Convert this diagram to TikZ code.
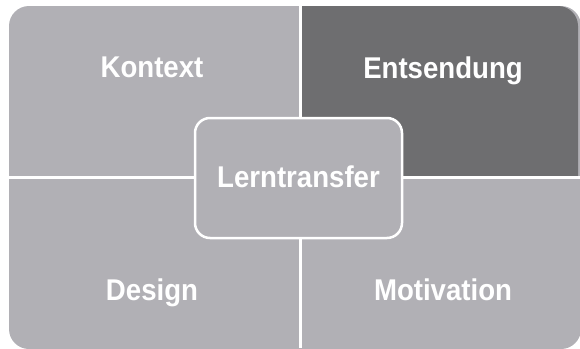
\documentclass[tikz,border=0pt]{standalone}
\usepackage{fontspec}
\setmainfont[FakeStretch=0.92]{Liberation Sans}
\usepackage{tikz}
\usepackage{xcolor}
\usetikzlibrary{positioning}
\definecolor{lightcol}{RGB}{177, 176, 181}
\definecolor{darkcol}{RGB}{110, 110, 112}

\begin{document}
\begin{tikzpicture}[
    x=1pt, y=-1pt,
    label/.style={text=white, font=\fontsize{30}{30}\selectfont\bfseries,
                  inner sep=0pt, anchor=base},
    divider/.style={draw=white, line width=3pt},
    hub/.style={rectangle, rounded corners=15pt, fill=lightcol, draw=white,
                line width=2.5pt, minimum width=207pt, minimum height=120pt}
  ]
  \useasboundingbox (0,0) rectangle (580,348);
  \clip (0,0) rectangle (580,348);

  % Quadrant backgrounds
  \fill[lightcol, rounded corners=20pt] (9,6) rectangle (581,349);
  \fill[darkcol] (300,177) -- (300,6) [rounded corners=20pt] -- (578,6)
        [sharp corners] -- (578,177) -- cycle;

  % Dividers
  \draw[divider] (300,0) -- (300,348);
  \draw[divider] (0,177) -- (580,177);

  % Nodes
  \node[label] (kontext) at (152,77) {Kontext};
  \node[label] (entsendung) at (443,78) {Entsendung};
  \node[label] (design) at (152,300) {Design};
  \node[label] (motivation) at (443,300) {Motivation};
  \node[hub] (transfer) at (298.5,178) {};
  \node[label] (transfertext) at ([yshift=-9pt]transfer.center) {Lerntransfer};
\end{tikzpicture}
\end{document}
